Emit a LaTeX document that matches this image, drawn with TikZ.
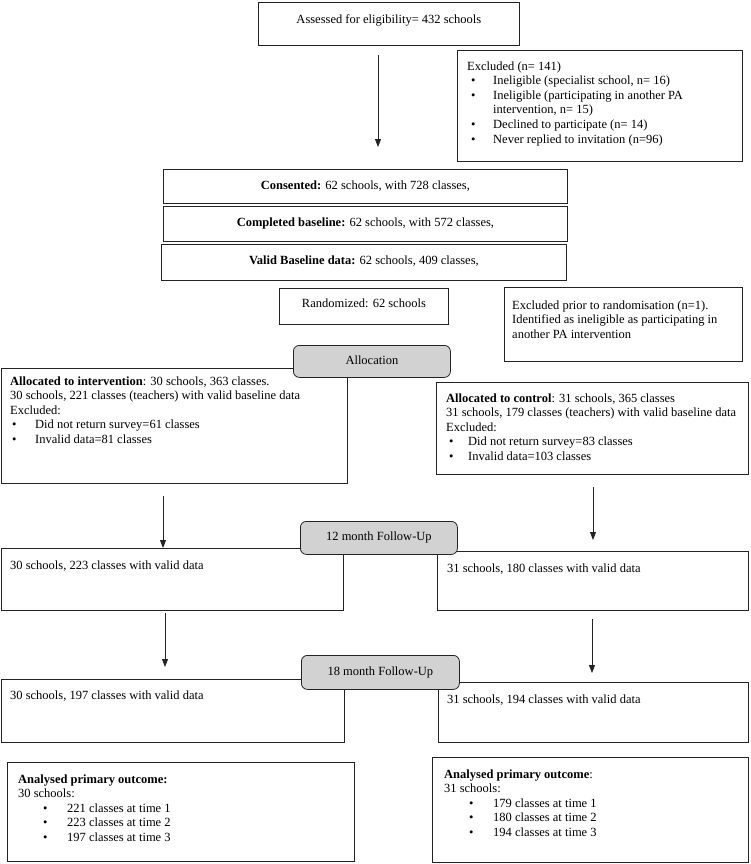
\documentclass[tikz,border=0pt]{standalone}
\usepackage{fontspec}
\setmainfont{Liberation Serif}
\usetikzlibrary{arrows.meta}
\definecolor{boxgray}{RGB}{210,210,210}
\definecolor{linec}{RGB}{35,35,35}
\newcommand\myst{\rule{0pt}{10pt}}
\newcommand\mybul[2]{\hspace*{#1}\makebox[#2][l]{\textbullet}}
\begin{document}
\begin{tikzpicture}[x=1pt,y=-1pt,
  box/.style={draw=linec, line width=0.8pt, rectangle, inner sep=0, anchor=north west, fill=white},
  stage/.style={draw=linec, line width=0.8pt, rounded corners=6pt, rectangle, fill=boxgray, inner sep=0, anchor=north west},
  lbl/.style={inner sep=0, font=\fontsize{12.5}{14.6}\selectfont, text height=8.7pt, text depth=2.8pt},
  para/.style={inner sep=0, font=\fontsize{12.5}{14.6}\selectfont, align=left, anchor=north west},
  arr/.style={draw=linec, line width=0.8pt, -{Triangle[length=8pt,width=6pt]}}]
\useasboundingbox (0,0) rectangle (750,864);

% ---------- boxes ----------
\node[box, minimum width=261, minimum height=43] (assess) at (258,2) {};
\node[box, minimum width=285, minimum height=111] (excl) at (457,50) {};
\node[box, minimum width=404, minimum height=34] (cons) at (163,169) {};
\node[box, minimum width=404, minimum height=35] (comp) at (163,206) {};
\node[box, minimum width=405, minimum height=36] (valid) at (161,244) {};
\node[box, minimum width=169, minimum height=36] (rand) at (279,288) {};
\node[box, minimum width=238, minimum height=74] (exclp) at (504,287) {};
\node[box, minimum width=346.5, minimum height=115] (interv) at (0.5,368) {};
\node[box, minimum width=312, minimum height=92] (ctrl) at (436,382) {};
\node[box, minimum width=342.5, minimum height=62] (fuL) at (0.5,548) {};
\node[box, minimum width=311, minimum height=59] (fuR) at (437,551) {};
\node[box, minimum width=343.5, minimum height=63] (fdL) at (0.5,679) {};
\node[box, minimum width=310, minimum height=60] (fdR) at (438,682) {};
\node[box, minimum width=347, minimum height=99] (anL) at (7,762) {};
\node[box, minimum width=316, minimum height=105] (anR) at (432,757) {};

% ---------- stage boxes ----------
\node[stage, minimum width=157, minimum height=32] (alloc) at (293,345) {};
\node[stage, minimum width=157, minimum height=33] (m12) at (300,521) {};
\node[stage, minimum width=158, minimum height=34] (m18) at (301,655) {};

% ---------- texts ----------
\node[lbl] (t-assess) at (assess.center |- 0,21) {Assessed for eligibility= 432 schools};
\node[para] (t-excl) at (467,59.9) {\myst Excluded (n= 141)\\
\mybul{4pt}{22pt}Ineligible (specialist school, n= 16)\\
\mybul{4pt}{22pt}Ineligible (participating in another PA\\
\hspace*{26pt}intervention, n= 15)\\
\mybul{4pt}{22pt}Declined to participate (n= 14)\\
\mybul{4pt}{22pt}Never replied to invitation (n=96)};
\node[lbl] (t-cons) at (cons.center |- 0,187) {\textbf{Consented:} 62 schools, with 728 classes,};
\node[lbl] (t-comp) at (comp.center |- 0,224) {\textbf{Completed baseline:} 62 schools, with 572 classes,};
\node[lbl] (t-valid) at (valid.center |- 0,262) {\textbf{Valid Baseline data:} 62 schools, 409 classes,};
\node[lbl] (t-rand) at (rand.center |- 0,305) {Randomized: 62 schools};
\node[para] (t-exclp) at (512,298.9) {\myst Excluded prior to randomisation (n=1).\\
Identified as ineligible as participating in\\
another PA intervention};
\node[lbl] (t-alloc) at (alloc.center) {Allocation};
\node[para] (t-interv) at (10,374.9) {\myst\textbf{Allocated to intervention}: 30 schools, 363 classes.\\
30 schools, 221 classes (teachers) with valid baseline data\\
Excluded:\\
\mybul{2pt}{23pt}Did not return survey=61 classes\\
\mybul{2pt}{23pt}Invalid data=81 classes};
\node[para] (t-ctrl) at (446,391.9) {\myst\textbf{Allocated to control}: 31 schools, 365 classes\\
31 schools, 179 classes (teachers) with valid baseline data\\
Excluded:\\
\mybul{3pt}{19pt}Did not return survey=83 classes\\
\mybul{3pt}{19pt}Invalid data=103 classes};
\node[lbl] (t-m12) at (m12.center) {12 month Follow-Up};
\node[lbl, anchor=west] (t-fuL) at (10,567) {30 schools, 223 classes with valid data};
\node[lbl, anchor=west] (t-fuR) at (447,570) {31 schools, 180 classes with valid data};
\node[lbl] (t-m18) at (m18.center) {18 month Follow-Up};
\node[lbl, anchor=west] (t-fdL) at (10,697) {30 schools, 197 classes with valid data};
\node[lbl, anchor=west] (t-fdR) at (447,701) {31 schools, 194 classes with valid data};
\node[para] (t-anL) at (18,772.9) {\myst\textbf{Analysed primary outcome:}\\
30 schools:\\
\mybul{25pt}{24pt}221 classes at time 1\\
\mybul{25pt}{24pt}223 classes at time 2\\
\mybul{25pt}{24pt}197 classes at time 3};
\node[para] (t-anR) at (444,767.9) {\myst\textbf{Analysed primary outcome}:\\
31 schools:\\
\mybul{25pt}{24pt}179 classes at time 1\\
\mybul{25pt}{24pt}180 classes at time 2\\
\mybul{25pt}{24pt}194 classes at time 3};

% ---------- arrows ----------
\coordinate (a1s) at (378,55);
\coordinate (a1e) at (378,147);
\coordinate (aL1s) at (163,496);
\coordinate (aR1s) at (593,487);
\coordinate (aR1e) at (593,540);
\coordinate (aL2s) at (165,613);
\coordinate (aL2e) at (165,667);
\coordinate (aR2s) at (592,619);
\coordinate (aR2e) at (592,673);
\draw[arr] (a1s) -- (a1e);
\draw[arr] (aL1s) -- (aL1s |- fuL.north);
\draw[arr] (aR1s) -- (aR1e);
\draw[arr] (aL2s) -- (aL2e);
\draw[arr] (aR2s) -- (aR2e);
\end{tikzpicture}
\end{document}
